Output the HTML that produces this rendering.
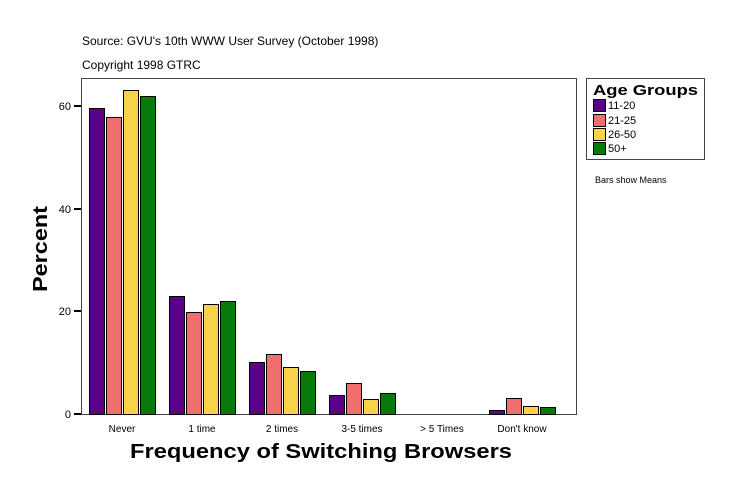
<!DOCTYPE html>
<html><head><style>
body{margin:0;background:#fff;}
svg text{font-family:"Liberation Sans",sans-serif;}
</style></head><body>
<svg width="739" height="496" xmlns="http://www.w3.org/2000/svg">
<rect width="739" height="496" fill="#fff"/>
<text x="82" y="45" font-size="12">Source: GVU's 10th WWW User Survey (October 1998)</text>
<text x="82" y="69" font-size="12">Copyright 1998 GTRC</text>
<rect x="81.5" y="78.5" width="495" height="336" fill="none" stroke="#444" stroke-width="1"/>
<g stroke="#000" stroke-width="2">
<line x1="74" y1="414" x2="81" y2="414"/><line x1="74" y1="311" x2="81" y2="311"/>
<line x1="74" y1="209" x2="81" y2="209"/><line x1="74" y1="106" x2="81" y2="106"/>
</g>
<g font-size="11" text-anchor="end">
<text x="71" y="418">0</text><text x="71" y="315">20</text><text x="71" y="213">40</text><text x="71" y="110">60</text>
</g>
<g stroke="#000" stroke-width="1">
<rect x="89.5" y="108.5" width="15" height="306" fill="#5c0087"/>
<rect x="106.5" y="117.5" width="15" height="297" fill="#f06e6e"/>
<rect x="123.5" y="90.5" width="15" height="324" fill="#f7d24a"/>
<rect x="140.5" y="96.5" width="15" height="318" fill="#087a0a"/>
<rect x="169.5" y="296.5" width="15" height="118" fill="#5c0087"/>
<rect x="186.5" y="312.5" width="15" height="102" fill="#f06e6e"/>
<rect x="203.5" y="304.5" width="15" height="110" fill="#f7d24a"/>
<rect x="220.5" y="301.5" width="15" height="113" fill="#087a0a"/>
<rect x="249.5" y="362.5" width="15" height="52" fill="#5c0087"/>
<rect x="266.5" y="354.5" width="15" height="60" fill="#f06e6e"/>
<rect x="283.5" y="367.5" width="15" height="47" fill="#f7d24a"/>
<rect x="300.5" y="371.5" width="15" height="43" fill="#087a0a"/>
<rect x="329.5" y="395.5" width="15" height="19" fill="#5c0087"/>
<rect x="346.5" y="383.5" width="15" height="31" fill="#f06e6e"/>
<rect x="363.5" y="399.5" width="15" height="15" fill="#f7d24a"/>
<rect x="380.5" y="393.5" width="15" height="21" fill="#087a0a"/>
<rect x="489.5" y="410.5" width="15" height="4" fill="#5c0087"/>
<rect x="506.5" y="398.5" width="15" height="16" fill="#f06e6e"/>
<rect x="523.5" y="406.5" width="15" height="8" fill="#f7d24a"/>
<rect x="540.5" y="407.5" width="15" height="7" fill="#087a0a"/>
</g>
<g font-size="10" text-anchor="middle">
<text x="122" y="432">Never</text><text x="202" y="432">1 time</text><text x="282" y="432">2 times</text>
<text x="362" y="432">3-5 times</text><text x="442" y="432">&gt; 5 Times</text><text x="522" y="432">Don't know</text>
</g>
<text x="321" y="458" font-size="20" font-weight="bold" text-anchor="middle" textLength="382" lengthAdjust="spacingAndGlyphs">Frequency of Switching Browsers</text>
<text transform="translate(47,249) rotate(-90)" font-size="20" font-weight="bold" text-anchor="middle" textLength="86" lengthAdjust="spacingAndGlyphs">Percent</text>
<rect x="586.5" y="78.5" width="118" height="81" fill="#fff" stroke="#444"/>
<text x="593" y="95" font-size="15" font-weight="bold" textLength="105" lengthAdjust="spacingAndGlyphs">Age Groups</text>
<g stroke="#000" stroke-width="1">
<rect x="593.5" y="99.5" width="12" height="12" fill="#5c0087"/>
<rect x="593.5" y="114.5" width="12" height="12" fill="#f06e6e"/>
<rect x="593.5" y="128.5" width="12" height="12" fill="#f7d24a"/>
<rect x="593.5" y="142.5" width="12" height="12" fill="#087a0a"/>
</g>
<g font-size="11" font-family="Liberation Mono">
<text x="608" y="109">11-20</text><text x="608" y="124">21-25</text><text x="608" y="138">26-50</text><text x="608" y="152">50+</text>
</g>
<text x="595" y="183" font-size="9">Bars show Means</text>
</svg>
</body></html>
